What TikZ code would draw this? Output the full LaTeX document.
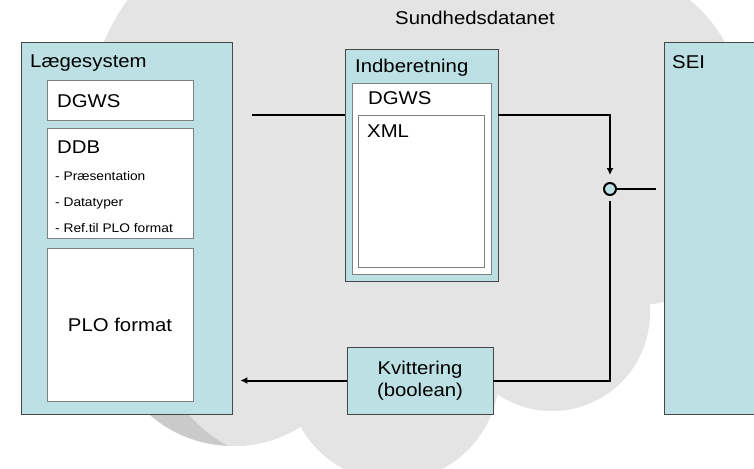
\documentclass[tikz,border=0pt]{standalone}
\usepackage{fontspec}
\setmainfont{Liberation Sans}[FakeStretch=1.1]
\usetikzlibrary{positioning,
        arrows.meta}
\definecolor{cloudgrey}{HTML}{E4E4E4}
\definecolor{shadegrey}{HTML}{CACACA}
\definecolor{boxcyan}{HTML}{BCE0E3}
\definecolor{edgegrey}{HTML}{474747}
\definecolor{partgrey}{HTML}{808080}

\begin{document}
\begin{tikzpicture}[x=1pt,y=-1pt,
        sysbox/.style={rectangle,draw=edgegrey,fill=boxcyan,line width=0.9pt,inner sep=0pt},
        partbox/.style={rectangle,draw=partgrey,fill=white,line width=0.9pt,inner sep=0pt},
        big/.style={font=\fontsize{18.5}{22}\selectfont},
        small/.style={font=\fontsize{12.5}{15}\selectfont},
        lbl/.style={anchor=base west,inner sep=0pt},
        conn/.style={line width=2pt,black},
        tip/.style={-{Latex[length=7pt,width=7pt]}}]
            \clip (0,0) rectangle (754,468);
            % cloud
            \fill [shadegrey] (233,319) circle (127pt);
            \begin{scope}
                \clip (233,319) circle (127pt);
                \fill [cloudgrey] (290,328) circle (133pt);
            \end{scope}
            \fill [cloudgrey] (307,129) circle (221pt);
            \fill [cloudgrey] (480,150) circle (200pt);
            \fill [cloudgrey] (600,110) circle (142pt);
            \fill [cloudgrey] (640,215) circle (90pt);
            \fill [cloudgrey] (552,313) circle (98pt);
            \fill [cloudgrey] (393,375) circle (106pt);

            \node [lbl,big] (Net) at (395,25) {Sundhedsdatanet};

            \node [sysbox,minimum width=211pt,minimum height=372pt] (Laege) at (126.5,228) {};
            \node [partbox,minimum width=146pt,minimum height=40pt] (LDGWS) at (120,100) {};
            \node [partbox,minimum width=146pt,minimum height=110pt] (DDB) at (120,183) {};
            \node [partbox,minimum width=146pt,minimum height=153pt,big] (PLO) at (120,324.5) {PLO format};
            \node [lbl,big] (LaegeT) at (30,68) {Lægesystem};
            \node [lbl,big] (LDGWST) at (57,108) {DGWS};
            \node [lbl,big] (DDBT) at (57,153) {DDB};
            \foreach \t [count=\i] in {- Præsentation, - Datatyper, - Ref.til PLO format}
                \node [lbl,small] (DDB\i) at (55,154+26*\i) {\t};

            \node [sysbox,minimum width=153pt,minimum height=232pt] (Indb) at (421.5,165) {};
            \node [partbox,minimum width=139pt,minimum height=191pt] (IDGWS) at (421.5,178.5) {};
            \node [partbox,minimum width=126pt,minimum height=152pt] (XML) at (421,191) {};
            \node [lbl,big] (IndbT) at (355,73) {Indberetning};
            \node [lbl,big] (IDGWST) at (368,105) {DGWS};
            \node [lbl,big] (XMLT) at (367,137) {XML};

            \node [sysbox,minimum width=146pt,minimum height=67pt,big,align=center] (Kvit) at (420,380.5) {Kvittering\\(boolean)};

            \node [sysbox,minimum width=96pt,minimum height=372pt] (SEI) at (712,228) {};
            \node [lbl,big] (SEIT) at (672,69) {SEI};

            \node [circle,draw=black,line width=2pt,fill=boxcyan,minimum size=12pt,inner sep=0pt] (Junc) at (610,189) {};

            \coordinate (Start) at (252,115);
            \draw [conn] (Start) -- (Start -| Indb.west);
            \draw [conn,tip,shorten >=7pt] (Start -| Indb.east) -| (Junc.north);
            \draw [conn,shorten >=8pt] (Junc) -- (Junc -| SEI.west);
            \draw [conn,shorten <=5pt] (Junc.south) |- (Kvit.east);
            \draw [conn,tip,shorten >=8pt] (Kvit.west) -- (Kvit.west -| Laege.east);
        \end{tikzpicture}
\end{document}
